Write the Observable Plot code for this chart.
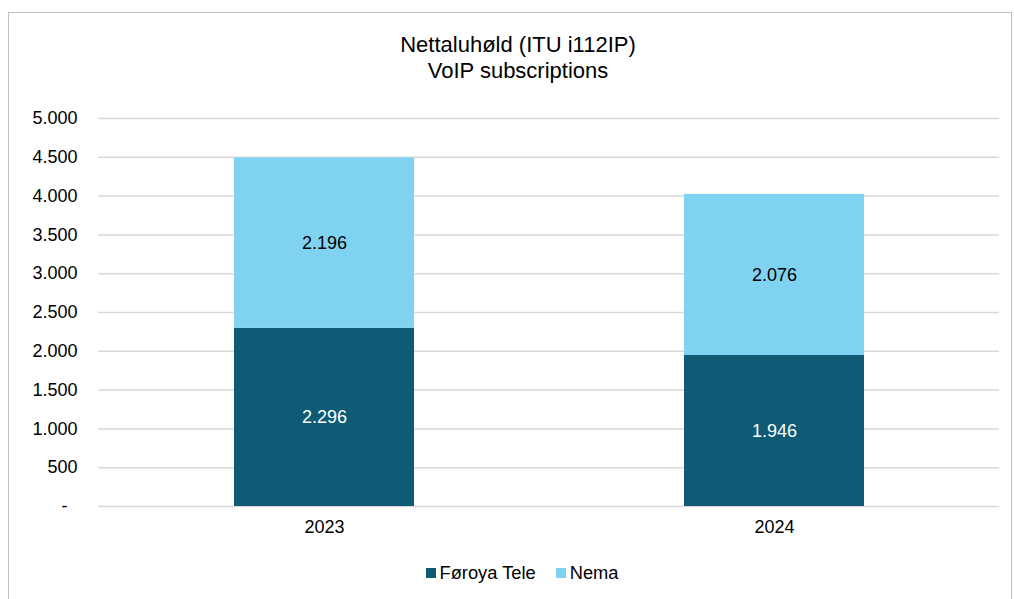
<!DOCTYPE html>
<html>
<head>
<meta charset="utf-8">
<script src="https://cdn.jsdelivr.net/npm/d3@7"></script>
<script src="https://cdn.jsdelivr.net/npm/@observablehq/plot@0.6"></script>
<style>
  html, body { margin: 0; padding: 0; background: #fff; }
  body { width: 1014px; height: 599px; position: relative; overflow: hidden; font-family: "Liberation Sans", Arial, sans-serif; color: #000; }
  #frame { position: absolute; left: 8px; top: 12px; width: 1004px; height: 620px; border: 1.5px solid #bfbfbf; box-sizing: border-box; }
  #title { position: absolute; left: 0; width: 1036px; top: 32px; text-align: center; font-size: 22px; line-height: 26px; }
  #chart { position: absolute; left: 0; top: 0; }
  #legend { position: absolute; top: 562px; left: 0; width: 1014px; display: flex; justify-content: center; padding-left: 30px; box-sizing: border-box; font-size: 18.3px; line-height: 22px; }
  .item { display: flex; align-items: center; margin: 0 10px; }
  .sw { width: 10px; height: 10px; margin-right: 4px; }
</style>
</head>
<body>
<div id="frame"></div>
<div id="title">Nettaluhøld (ITU i112IP)<br>VoIP subscriptions</div>
<div id="chart"></div>
<div id="legend"></div>
<script>
const years = ["2023", "2024"];
const operators = ["Føroya Tele", "Nema"];
const foroyaTele = [2296, 1946];
const nema = [2196, 2076];
const yTicks = [0, 500, 1000, 1500, 2000, 2500, 3000, 3500, 4000, 4500, 5000];
const colors = ["#0F5A74", "#7FD2F0"];
const labelColors = ["#ffffff", "#000000"];

const seriesValues = [foroyaTele, nema];
const table = [];
operators.forEach((op, i) => {
  years.forEach((yr, j) => table.push({year: yr, op: op, value: seriesValues[i][j]}));
});

const loc = d3.formatLocale({decimal: ",", thousands: ".", grouping: [3], currency: ["", ""]});
const fmt = loc.format(",d");
const tickFmt = d => d === 0 ? "-\u00a0\u00a0" : fmt(d);

const marks = [
  Plot.gridY(yTicks, {stroke: "#d9d9d9", strokeOpacity: 1, strokeWidth: 1.5}),
  Plot.barY(table, Plot.stackY({x: "year", y: "value", fill: "op", z: "op", order: operators})),
  Plot.axisY(yTicks, {tickSize: 0, tickPadding: 21, tickFormat: tickFmt, fontSize: 18}),
  Plot.axisX({tickSize: 0, tickPadding: 14, fontSize: 18})
];
operators.forEach((op, i) => {
  marks.push(Plot.text(table, Plot.filter(d => d.op === op,
    Plot.stackY({x: "year", y: "value", z: "op", order: operators, text: d => fmt(d.value), fill: labelColors[i], fontSize: 18}))));
});

const chart = Plot.plot({
  width: 1014,
  height: 545,
  marginTop: 118,
  marginBottom: 39,
  marginLeft: 98,
  marginRight: 15,
  style: {fontFamily: "Liberation Sans, Arial, sans-serif", fontSize: "18px", background: "transparent", color: "#000"},
  x: {domain: years, paddingInner: 0.6, paddingOuter: 0.3, label: null},
  y: {domain: [0, 5000], label: null},
  color: {domain: operators, range: colors},
  marks
});
document.getElementById("chart").appendChild(chart);

const legend = document.getElementById("legend");
operators.forEach((op, i) => {
  const item = document.createElement("div");
  item.className = "item";
  const sw = document.createElement("div");
  sw.className = "sw";
  sw.style.background = colors[i];
  const t = document.createElement("span");
  t.textContent = op;
  item.appendChild(sw);
  item.appendChild(t);
  legend.appendChild(item);
});
</script>
</body>
</html>
